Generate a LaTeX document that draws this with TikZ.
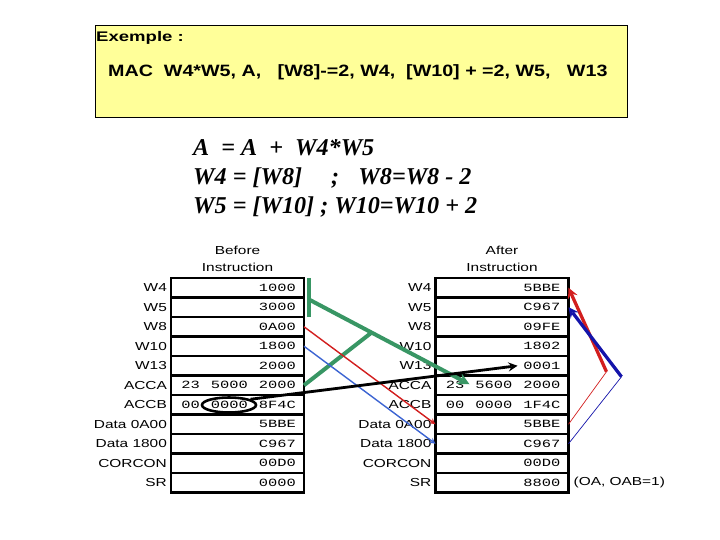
\documentclass[tikz,border=0pt]{standalone}
\usepackage{fontspec}
\usepackage{tikz}
\usetikzlibrary{positioning,calc,shapes.geometric}
\newfontfamily\sansfnt[FakeStretch=1.33]{Liberation Sans}
\newfontfamily\boxfnt[FakeStretch=1.2]{Liberation Sans}
\newfontfamily\monofnt[FakeStretch=1.4]{Liberation Mono}
\newfontfamily\seriffnt{Liberation Serif}
\definecolor{noteyellow}{RGB}{255, 255, 153}
\definecolor{movegreen}{RGB}{56, 150, 100}
\definecolor{movered}{RGB}{210, 30, 30}
\definecolor{moveblue}{RGB}{60, 100, 210}
\definecolor{flagblue}{RGB}{20, 20, 170}

\begin{document}
\begin{tikzpicture}[x=0.03cm, y=-0.03cm,
    exbox/.style={rectangle, draw=black, line width=0.8pt, fill=noteyellow,
                  minimum width=15.96cm, minimum height=2.76cm},
    cell/.style={rectangle, draw=black, line width=1.8pt, outer sep=0pt,
                 minimum height=0.585cm, text width=3.51cm, inner xsep=0.24cm,
                 align=right, font=\monofnt\fontsize{9.4}{11}\selectfont,
                 label distance=0.2cm},
    lbl/.style={font=\sansfnt\fontsize{9.9}{14.5}\selectfont},
    formula/.style={anchor=base west, inner sep=0pt,
                    font=\seriffnt\bfseries\itshape\fontsize{20.6}{24}\selectfont},
    grn/.style={draw=movegreen, line width=0.12cm},
    blk/.style={->, >=stealth, draw=black, line width=2.4pt},
    thinred/.style={draw=movered, line width=1.2pt},
    thinblue/.style={draw=moveblue, line width=1.2pt},
    flagred/.style={->, >=stealth, draw=movered, line width=2.8pt},
    flagblu/.style={->, >=stealth, draw=flagblue, line width=2.8pt}
  ]
    \useasboundingbox (0,0) rectangle (720,540);

    % instruction box
    \node[exbox] (ex) at (361,71) {};
    \node[anchor=base west, inner sep=0pt, font=\sansfnt\bfseries\fontsize{11.9}{14}\selectfont]
        (extitle) at (96,41.7) {Exemple :};
    \node[anchor=base west, inner sep=0pt, font=\boxfnt\bfseries\fontsize{14}{17}\selectfont]
        (exline) at (108,77) {MAC\ \ W4*W5, A,\ \ \ [W8]-=2, W4,\ \ [W10] + =2, W5,\ \ \ W13};

    % what it does
    \node[formula] (op1) at (193,156) {A\ \ = A\ \ +\ \ W4*W5};
    \node[formula] (op2) at (193,185) {W4 = [W8]\hspace{1.2em};\hspace{0.8em}W8=W8 - 2};
    \node[formula] (op3) at (193,214) {W5 = [W10] ; W10=W10 + 2};

    % before
    \node[cell, label={[lbl]left:W4}] (bw4) at (237.5,287.75) {1000};
    \node[cell, below=0pt of bw4, label={[lbl]left:W5}] (bw5) {3000};
    \node[cell, below=0pt of bw5, label={[lbl]left:W8}] (bw8) {0A00};
    \node[cell, below=0pt of bw8, label={[lbl]left:W10}] (bw10) {1800};
    \node[cell, below=0pt of bw10, label={[lbl]left:W13}] (bw13) {2000};
    \node[cell, below=0pt of bw13, label={[lbl]left:ACCA}] (bacca) {23\hspace{1em}5000\hspace{1em}2000};
    \node[cell, below=0pt of bacca, label={[lbl]left:ACCB}] (baccb) {00\hspace{1em}0000\hspace{1em}8F4C};
    \node[cell, below=0pt of baccb, label={[lbl]left:Data 0A00}] (bd0a00) {5BBE};
    \node[cell, below=0pt of bd0a00, label={[lbl]left:Data 1800}] (bd1800) {C967};
    \node[cell, below=0pt of bd1800, label={[lbl]left:CORCON}] (bcorcon) {00D0};
    \node[cell, below=0pt of bcorcon, label={[lbl]left:SR}] (bsr) {0000};
    \node[lbl, align=center, above=0.06cm of bw4] (btitle) {Before\\Instruction};

    % after
    \node[cell, label={[lbl]left:W4}] (aw4) at (502,287.75) {5BBE};
    \node[cell, below=0pt of aw4, label={[lbl]left:W5}] (aw5) {C967};
    \node[cell, below=0pt of aw5, label={[lbl]left:W8}] (aw8) {09FE};
    \node[cell, below=0pt of aw8, label={[lbl]left:W10}] (aw10) {1802};
    \node[cell, below=0pt of aw10, label={[lbl]left:W13}] (aw13) {0001};
    \node[cell, below=0pt of aw13, label={[lbl]left:ACCA}] (aacca) {23\hspace{1em}5600\hspace{1em}2000};
    \node[cell, below=0pt of aacca, label={[lbl]left:ACCB}] (aaccb) {00\hspace{1em}0000\hspace{1em}1F4C};
    \node[cell, below=0pt of aaccb, label={[lbl]left:Data 0A00}] (ad0a00) {5BBE};
    \node[cell, below=0pt of ad0a00, label={[lbl]left:Data 1800}] (ad1800) {C967};
    \node[cell, below=0pt of ad1800, label={[lbl]left:CORCON}] (acorcon) {00D0};
    \node[cell, below=0pt of acorcon, label={[lbl]left:SR}] (asr) {8800};
    \node[lbl, align=center, above=0.06cm of aw4] (atitle) {After\\Instruction};
    \node[lbl, right=0.03cm of asr] (ovf) {(OA, OAB=1)};

    \node[draw, ellipse, line width=2.2pt, minimum width=1.62cm, minimum height=0.45cm,
          inner sep=0pt] (ovl) at (229,405) {};

    % product into A
    \coordinate (gtop) at ($(bw4.north east)+(5,0)$);
    \coordinate (gbot) at ($(bw5.south east)+(5,0)$);
    \coordinate (gbar) at ($(bw4.south east)+(5,2)$);
    \coordinate (t5600) at ($(aacca.west)+(34,-1)$);
    \path (gbar) -- (t5600) coordinate[pos=0.39] (gmerge);
    \draw[grn] (gtop) -- (gbot);
    \draw[grn] (bacca.east) -- (gmerge);
    \draw[grn, ->, >=stealth] (gbar) -- (t5600);

    % pointers
    \draw[thinred, ->, >=stealth] (bw8.east) -- (ad0a00.west);
    \draw[thinblue, ->, >=stealth] (bw10.east) -- (ad1800.west);
    \coordinate (t0001) at ($(aw13.west)+(82,0)$);
    \draw[blk] (ovl.15) -- (t0001);

    % prefetched data
    \coordinate (rk) at ($(aw13.east)+(38,6)$);
    \coordinate (bk) at ($(aw13.east)+(53,11)$);
    \draw[flagred] (rk) -- (aw4.east);
    \draw[movered, line width=0.6pt] (rk) -- (ad0a00.east);
    \draw[flagblu] (bk) -- (aw5.east);
    \draw[flagblue, line width=0.6pt] (bk) -- (ad1800.east);
\end{tikzpicture}
\end{document}
